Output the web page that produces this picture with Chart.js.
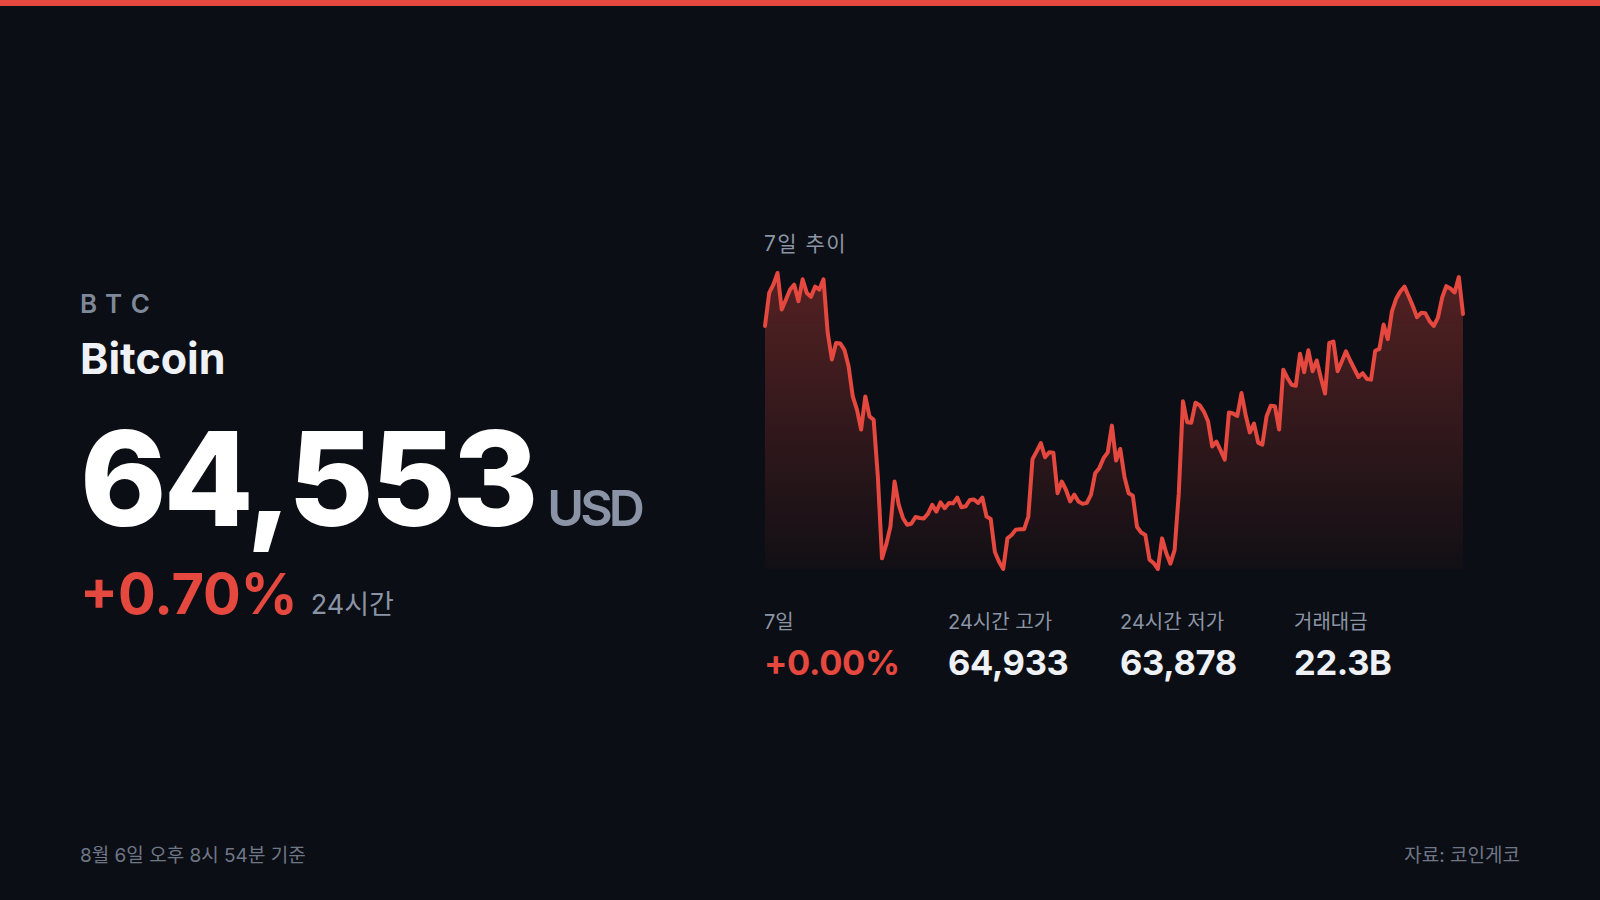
<!DOCTYPE html>
<html lang="ko">
<head>
<meta charset="UTF-8">
<title>BTC - 7일 추이</title>
<script src="https://cdn.jsdelivr.net/npm/chart.js"></script>
<style>
  html, body { margin: 0; padding: 0; }
  body {
    width: 1600px; height: 900px; overflow: hidden; position: relative;
    background: #0b0e14;
    font-family: Inter, "Noto Sans CJK KR", "Noto Sans", sans-serif;
    color: #eef1f6;
  }
  .topbar { position: absolute; left: 0; top: 0; width: 1600px; height: 6px; background: #e5483f; }
  .abs { position: absolute; line-height: 1; white-space: nowrap; }
  .symbol { left: 80px; top: 291px; font-size: 26px; font-weight: 600; letter-spacing: 0.36em; color: #7f8899; }
  .name { left: 80px; top: 337px; font-size: 43px; font-weight: 700; color: #eef1f6; }
  .price-row { left: 80px; top: 413px; display: flex; align-items: baseline; gap: 12px; }
  .price { font-size: 131px; font-weight: 800; letter-spacing: -0.025em; color: #ffffff; }
  .unit { font-size: 50px; font-weight: 600; letter-spacing: -0.08em; color: #8a94a6; }
  .change-row { left: 80px; top: 566px; display: flex; align-items: baseline; gap: 13px; }
  .change { font-size: 56px; font-weight: 700; color: #e5483f; }
  .period { font-size: 27px; font-weight: 400; color: #8a94a6; }
  .chart-title { left: 764px; top: 233px; font-size: 21px; color: #8b95a5; letter-spacing: 0.07em; }
  #chartBox { position: absolute; left: 761px; top: 269px; width: 706px; height: 304px; }
  .stat { position: absolute; top: 612px; }
  .stat .lbl { font-size: 20px; color: #8b95a5; line-height: 20px; }
  .stat .val { font-size: 34.5px; font-weight: 700; color: #eef1f6; line-height: 36px; margin-top: 13px; letter-spacing: -0.01em; }
  .stat .val.up { color: #e5483f; }
  .footer { top: 846px; font-size: 19px; color: #6f7787; }
</style>
</head>
<body>
  <div class="topbar"></div>

  <div class="abs symbol">BTC</div>
  <div class="abs name">Bitcoin</div>
  <div class="abs price-row">
    <span class="price">64,553</span><span class="unit">USD</span>
  </div>
  <div class="abs change-row">
    <span class="change">+0.70%</span><span class="period">24시간</span>
  </div>

  <div class="abs chart-title">7일 추이</div>
  <div id="chartBox"><canvas id="weekChart"></canvas></div>

  <div class="stat" style="left:764px"><div class="lbl">7일</div><div class="val up">+0.00%</div></div>
  <div class="stat" style="left:948px"><div class="lbl">24시간 고가</div><div class="val">64,933</div></div>
  <div class="stat" style="left:1120px"><div class="lbl">24시간 저가</div><div class="val">63,878</div></div>
  <div class="stat" style="left:1294px"><div class="lbl">거래대금</div><div class="val">22.3B</div></div>

  <div class="abs footer" style="left:80px">8월 6일 오후 8시 54분 기준</div>
  <div class="abs footer" style="right:80px">자료: 코인게코</div>

<script>
  // hourly BTC price (USD), one array per day, oldest first
  const day1 = [64430, 64770, 64855, 64975, 64600, 64700, 64805, 64855, 64685, 64910, 64770, 64730,
                64835, 64805, 64910, 64360, 64085, 64255, 64250, 64185, 64015, 63705, 63570, 63365];
  const day2 = [63705, 63500, 63465, 62880, 62040, 62180, 62365, 62830, 62590, 62455, 62385, 62395,
                62465, 62455, 62450, 62500, 62590, 62520, 62615, 62555, 62610, 62605, 62665, 62565];
  const day3 = [62575, 62640, 62645, 62610, 62665, 62470, 62445, 62105, 62005, 61930, 62245, 62280,
                62335, 62340, 62340, 62470, 63060, 63140, 63225, 63080, 63130, 63125, 62710, 62830];
  const day4 = [62745, 62625, 62695, 62625, 62600, 62610, 62695, 62915, 62970, 63070, 63130, 63405,
                63045, 63165, 62880, 62710, 62685, 62365, 62305, 62280, 62025, 61990, 61930, 62245];
  const day5 = [62095, 61985, 62125, 62710, 63655, 63440, 63435, 63640, 63615, 63550, 63450, 63190,
                63240, 63150, 63055, 63540, 63530, 63505, 63740, 63515, 63335, 63425, 63230, 63210];
  const day6 = [63500, 63610, 63605, 63365, 63980, 63895, 63825, 63815, 64145, 63955, 64180, 63965,
                64075, 63895, 63735, 64255, 64270, 63965, 64065, 64170, 64075, 63990, 63905, 63945];
  const day7 = [63885, 63878, 64175, 64195, 64445, 64295, 64580, 64710, 64785, 64835, 64735, 64635,
                64520, 64565, 64560, 64480, 64430, 64515, 64720, 64840, 64815, 64775, 64933, 64553];

  const days = ['7월 31일', '8월 1일', '8월 2일', '8월 3일', '8월 4일', '8월 5일', '8월 6일'];

  const prices = [].concat(day1, day2, day3, day4, day5, day6, day7);
  const labels = [];
  for (let d = 0; d < days.length; d++) {
    for (let h = 0; h < 24; h++) labels.push(days[d] + ' ' + h + '시');
  }

  const lineColor = '#e5483f';

  function areaFill(context) {
    const { chart } = context;
    const area = chart.chartArea;
    if (!area) return 'rgba(229,72,63,0.2)';
    const g = chart.ctx.createLinearGradient(0, area.top, 0, area.bottom);
    g.addColorStop(0, 'rgba(229,72,63,0.34)');
    g.addColorStop(1, 'rgba(229,72,63,0.03)');
    return g;
  }

  new Chart(document.getElementById('weekChart'), {
    type: 'line',
    data: {
      labels: labels,
      datasets: [{
        data: prices,
        borderColor: lineColor,
        borderWidth: 4,
        borderJoinStyle: 'round',
        borderCapStyle: 'round',
        backgroundColor: areaFill,
        fill: 'start',
        pointRadius: 0,
        tension: 0,
        clip: false
      }]
    },
    options: {
      responsive: true,
      maintainAspectRatio: false,
      animation: false,
      layout: { padding: 4 },
      plugins: { legend: { display: false }, tooltip: { enabled: false } },
      scales: {
        x: { display: false, offset: false },
        y: { display: false, min: Math.min(...prices), max: Math.max(...prices) }
      }
    }
  });
</script>
</body>
</html>
